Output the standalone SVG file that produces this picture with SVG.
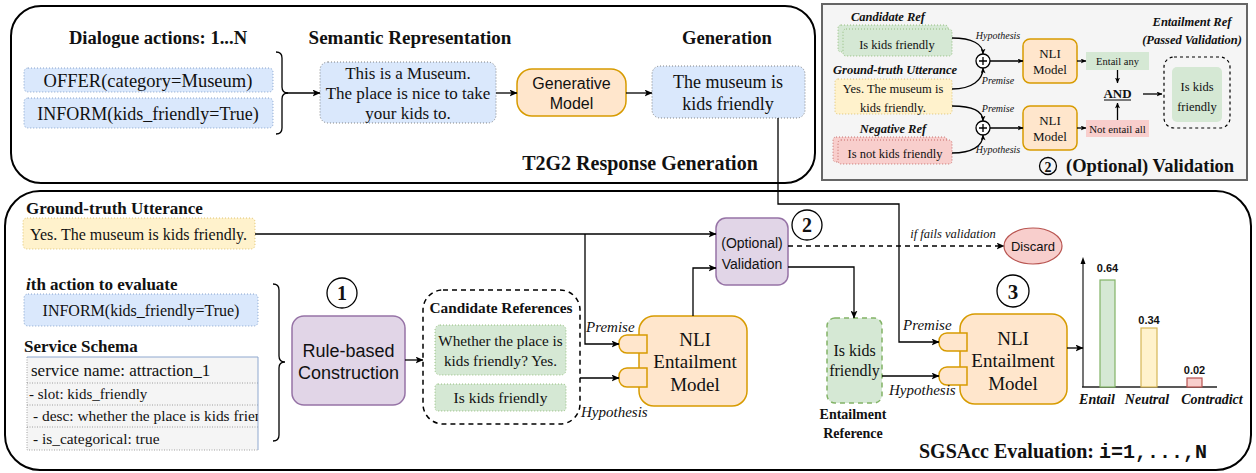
<svg xmlns="http://www.w3.org/2000/svg" width="1256" height="473" viewBox="0 0 1256 473">
<style>
.serif{font-family:"Liberation Serif","Times New Roman",serif;fill:#111}
.sans{font-family:"Liberation Sans",Arial,sans-serif;fill:#111}
.mono{font-family:"Liberation Mono","Courier New",monospace;fill:#111}
.b{font-weight:bold}
.i{font-style:italic}
.mid{text-anchor:middle}
.blue{fill:#dae8fc;stroke:#6c8ebf;stroke-width:0.8;stroke-dasharray:1 2}
.green{fill:#d5e8d4;stroke:#82b366;stroke-width:0.8;stroke-dasharray:1 2}
.yellow{fill:#fff2cc;stroke:#d6b656;stroke-width:0.8;stroke-dasharray:1 2}
.red{fill:#f8cecc;stroke:#b85450;stroke-width:0.8;stroke-dasharray:1 2}
.orange{fill:#ffe6cc;stroke:#d79b00;stroke-width:1.5}
.purple{fill:#e1d5e7;stroke:#9673a6;stroke-width:1.5}
.line{fill:none;stroke:#000;stroke-width:1.3}
.dash{stroke-dasharray:5 4}
.circ{fill:#fff;stroke:#000;stroke-width:1.3}
</style>
<defs>
<marker id="arr" viewBox="0 0 8 7" refX="7.5" refY="3.5" markerWidth="8" markerHeight="7" markerUnits="userSpaceOnUse" orient="auto">
<path d="M0,0 L8,3.5 L0,7 L2,3.5 z" fill="#000"/>
</marker>
<marker id="arrs" viewBox="0 0 8 7" refX="7.5" refY="3.5" markerWidth="6" markerHeight="5" markerUnits="userSpaceOnUse" orient="auto">
<path d="M0,0 L8,3.5 L0,7 L2,3.5 z" fill="#000"/>
</marker>
<clipPath id="schemaClip"><rect x="27" y="357" width="231" height="94"/></clipPath>
</defs>
<rect width="1256" height="473" fill="#fff"/>

<!-- Panels -->
<g id="panel-top">
<rect x="11" y="6" width="804" height="177" rx="30" fill="#fff" stroke="#000" stroke-width="2"/>
<text class="serif b mid" x="640" y="170" font-size="20">T2G2 Response Generation</text>
</g>
<g id="panel-bottom">
<rect x="5" y="191" width="1246" height="279" rx="35" fill="#fff" stroke="#000" stroke-width="2"/>
<text class="serif b" x="919" y="458" font-size="20">SGSAcc Evaluation: <tspan class="mono b" font-size="20">i=1,...,N</tspan></text>
</g>
<g id="panel-validation">
<rect x="822" y="4" width="425" height="176" fill="#f5f5f5" stroke="#666" stroke-width="2"/>
<circle cx="1048" cy="166" r="8.5" fill="none" stroke="#000" stroke-width="1.3"/>
<text class="serif b mid" x="1048" y="171.5" font-size="14">2</text>
<text class="serif b" x="1066" y="172" font-size="18.5">(Optional) Validation</text>
</g>

<!-- Top panel nodes -->
<g id="dialogue-actions">
<text class="serif b mid" x="158" y="44" font-size="18.6">Dialogue actions: 1...N</text>
<rect class="blue" x="24" y="68" width="249" height="24" rx="4"/>
<text class="serif mid" x="148" y="86.5" font-size="18.5">OFFER(category=Museum)</text>
<rect class="blue" x="24" y="98" width="249" height="30" rx="4"/>
<text class="serif mid" x="148" y="119.5" font-size="18">INFORM(kids_friendly=True)</text>
<path class="line" d="M276,52 q6,0 6,6 v29 q0,6 6,6 q-6,0 -6,6 v29 q0,6 -6,6"/>
</g>
<g id="semantic-representation">
<text class="serif b mid" x="410" y="44" font-size="19">Semantic Representation</text>
<rect class="blue" x="320" y="62" width="176" height="61" rx="8" style="stroke:#666"/>
<text class="serif mid" x="408" y="79" font-size="17">This is a Museum.</text>
<text class="serif mid" x="408" y="99" font-size="17">The place is nice to take</text>
<text class="serif mid" x="408" y="119" font-size="17">your kids to.</text>
</g>
<g id="generative-model">
<rect class="orange" x="517" y="69" width="109" height="47" rx="15"/>
<text class="sans mid" x="571.5" y="89" font-size="16">Generative</text>
<text class="sans mid" x="571.5" y="109" font-size="16">Model</text>
</g>
<g id="generation">
<text class="serif b mid" x="727" y="44" font-size="18.6">Generation</text>
<rect class="blue" x="652" y="66" width="153" height="52" rx="8" style="stroke:#666"/>
<text class="serif mid" x="728" y="88" font-size="18">The museum is</text>
<text class="serif mid" x="728" y="110" font-size="18">kids friendly</text>
</g>

<!-- Validation panel nodes -->
<g id="v-candidate-ref">
<text class="serif b i mid" x="888" y="21" font-size="12.5">Candidate Ref</text>
<rect class="green" x="838" y="25" width="110" height="27" rx="3"/>
<rect class="green" x="843" y="29" width="109" height="27" rx="3"/>
<text class="serif mid" x="897" y="49" font-size="12.5">Is kids friendly</text>
</g>
<g id="v-ground-truth">
<text class="serif b i mid" x="895" y="74" font-size="12.5">Ground-truth Utterance</text>
<rect class="yellow" x="835" y="79" width="117" height="35" rx="3"/>
<text class="serif mid" x="893" y="93" font-size="12.5">Yes. The museum is</text>
<text class="serif mid" x="893" y="112" font-size="12.5">kids friendly.</text>
</g>
<g id="v-negative-ref">
<text class="serif b i mid" x="893" y="133" font-size="12.5">Negative Ref</text>
<rect class="red" x="833" y="137" width="114" height="25" rx="3"/>
<rect class="red" x="838" y="140" width="114" height="24" rx="3"/>
<text class="serif mid" x="895" y="158" font-size="12.5">Is not kids friendly</text>
</g>
<g id="v-plus1">
<circle cx="983" cy="61" r="7" class="circ"/>
<path class="line" d="M979,61 h8 M983,57 v8" stroke-width="1"/>
</g>
<g id="v-plus2">
<circle cx="983" cy="128" r="7" class="circ"/>
<path class="line" d="M979,128 h8 M983,124 v8" stroke-width="1"/>
</g>
<g id="v-nli1">
<rect class="orange" x="1023" y="39" width="54" height="44" rx="7"/>
<text class="serif mid" x="1050" y="58" font-size="13">NLI</text>
<text class="serif mid" x="1050" y="74" font-size="13">Model</text>
</g>
<g id="v-nli2">
<rect class="orange" x="1023" y="106" width="54" height="44" rx="7"/>
<text class="serif mid" x="1050" y="125" font-size="13">NLI</text>
<text class="serif mid" x="1050" y="141" font-size="13">Model</text>
</g>
<g id="v-entail-any">
<rect x="1086" y="52" width="63" height="18" fill="#d5e8d4"/>
<text class="serif mid" x="1117.5" y="65" font-size="10.5">Entail any</text>
</g>
<g id="v-not-entail-all">
<rect x="1086" y="120" width="63" height="17" fill="#f8cecc"/>
<text class="serif mid" x="1117.5" y="132.5" font-size="10.8">Not entail all</text>
</g>
<g id="v-and">
<text class="serif b mid" x="1117.5" y="98" font-size="13">AND</text>
<line x1="1104" y1="100" x2="1131" y2="100" stroke="#000" stroke-width="1"/>
</g>
<g id="v-entailment-ref">
<text class="serif b i mid" x="1192" y="26" font-size="12.5">Entailment Ref</text>
<text class="serif b i mid" x="1192" y="44" font-size="12.5">(Passed Validation)</text>
<rect x="1164" y="57" width="66" height="71" rx="10" fill="none" stroke="#000" stroke-width="1.2" stroke-dasharray="3 3"/>
<rect x="1172" y="67" width="50" height="55" rx="5" fill="#d5e8d4"/>
<text class="serif mid" x="1197" y="91" font-size="12.5">Is kids</text>
<text class="serif mid" x="1197" y="111" font-size="12.5">friendly</text>
</g>

<!-- Bottom panel nodes -->
<g id="ground-truth">
<text class="serif b" x="26" y="214" font-size="17">Ground-truth Utterance</text>
<rect class="yellow" x="23" y="218" width="232" height="31" rx="4"/>
<text class="serif" x="30" y="239.5" font-size="16">Yes. The museum is kids friendly.</text>
</g>
<g id="ith-action">
<text class="serif b" x="26" y="290" font-size="17"><tspan class="i">i</tspan>th action to evaluate</text>
<rect class="blue" x="24" y="294" width="234" height="32" rx="4"/>
<text class="serif mid" x="141" y="315.5" font-size="16">INFORM(kids_friendly=True)</text>
</g>
<g id="service-schema">
<text class="serif b" x="24" y="352" font-size="17">Service Schema</text>
<rect x="27" y="357" width="231" height="93" fill="#f5f5f5"/>
<g fill="none" stroke="#888" stroke-width="0.8" stroke-dasharray="1 1.5">
<path d="M27,357 V450 H258 M27,383 H258 M27,405 H258 M27,427 H258"/>
</g>
<path d="M27,357 H258 V450" fill="none" stroke="#8fa8cf" stroke-width="1"/>
<g clip-path="url(#schemaClip)">
<text class="serif" x="31" y="376" font-size="17" fill="#333">service name: attraction_1</text>
<text class="serif" x="29" y="399" font-size="15" fill="#333">- slot: kids_friendly</text>
<text class="serif" x="33" y="421" font-size="15.4" fill="#333">- desc: whether the place is kids friendly</text>
<text class="serif" x="33" y="444" font-size="15.4" fill="#333">- is_categorical: true</text>
</g>
<path class="line" d="M273,284 q6,0 6,6 v66 q0,6 6,6 q-6,0 -6,6 v67 q0,6 -6,6"/>
</g>
<g id="step1">
<circle cx="342" cy="293" r="15" class="circ"/>
<text class="serif b mid" x="342" y="300" font-size="20">1</text>
</g>
<g id="rule-based">
<rect class="purple" x="292" y="316" width="113" height="89" rx="12"/>
<text class="sans mid" x="348.5" y="357" font-size="18">Rule-based</text>
<text class="sans mid" x="348.5" y="379" font-size="18">Construction</text>
</g>
<g id="candidate-references">
<rect x="423" y="290" width="157" height="134" rx="20" fill="none" stroke="#000" stroke-width="1.5" stroke-dasharray="5 4"/>
<text class="serif b mid" x="501" y="313" font-size="15.3">Candidate References</text>
<rect class="green" x="435" y="325" width="131" height="50" rx="5"/>
<text class="serif mid" x="500.5" y="346" font-size="15.2">Whether the place is</text>
<text class="serif mid" x="500.5" y="366" font-size="15.2">kids friendly? Yes.</text>
<rect class="green" x="435" y="384" width="131" height="27" rx="3"/>
<text class="serif mid" x="500.5" y="403" font-size="15.5">Is kids friendly</text>
</g>
<g id="nli1">
<rect class="orange" x="639" y="316" width="108" height="90" rx="15"/>
<path class="orange" d="M647,335 H627 a8,8 0 0 0 -8,8 v2 a8,8 0 0 0 8,8 H647 z"/>
<path class="orange" d="M647,368 H627 a8,8 0 0 0 -8,8 v3 a8,8 0 0 0 8,8 H647 z"/>
<text class="serif mid" x="695" y="346" font-size="19">NLI</text>
<text class="serif mid" x="695" y="368" font-size="19">Entailment</text>
<text class="serif mid" x="695" y="391" font-size="19">Model</text>
</g>
<g id="validation">
<rect class="purple" x="716" y="218" width="72" height="67" rx="10"/>
<text class="sans mid" x="752" y="248" font-size="14">(Optional)</text>
<text class="sans mid" x="752" y="269" font-size="14">Validation</text>
</g>
<g id="step2">
<circle cx="807" cy="225" r="15" class="circ"/>
<text class="serif b mid" x="807" y="232" font-size="20">2</text>
</g>
<g id="discard">
<ellipse cx="1033" cy="246" rx="29" ry="18" fill="#f8cecc" stroke="#b85450" stroke-width="1.2"/>
<text class="sans mid" x="1033" y="251" font-size="13">Discard</text>
</g>
<g id="entailment-reference">
<rect x="827" y="318" width="55" height="85" rx="8" fill="#d5e8d4" stroke="#82b366" stroke-width="1.5" stroke-dasharray="5 4"/>
<text class="serif mid" x="854.5" y="356" font-size="16">Is kids</text>
<text class="serif mid" x="854.5" y="376" font-size="16">friendly</text>
<text class="serif b mid" x="853" y="419" font-size="14">Entailment</text>
<text class="serif b mid" x="853" y="438" font-size="14">Reference</text>
</g>
<g id="step3">
<circle cx="1013" cy="291" r="16" class="circ"/>
<text class="serif b mid" x="1013" y="298.5" font-size="21">3</text>
</g>
<g id="nli2">
<rect class="orange" x="960" y="314" width="107" height="90" rx="15"/>
<path class="orange" d="M967,333 H947 a8,8 0 0 0 -8,8 v2 a8,8 0 0 0 8,8 H967 z"/>
<path class="orange" d="M967,367 H947 a8,8 0 0 0 -8,8 v2 a8,8 0 0 0 8,8 H967 z"/>
<text class="serif mid" x="1013" y="345" font-size="19">NLI</text>
<text class="serif mid" x="1013" y="367" font-size="19">Entailment</text>
<text class="serif mid" x="1013" y="390" font-size="19">Model</text>
</g>
<g id="chart">
<path d="M1083,387 V262" fill="none" stroke="#666" stroke-width="1.8"/>
<path d="M1083,257 l-2.5,7 h5 z" fill="#000"/>
<path d="M1082,387 H1217" fill="none" stroke="#222" stroke-width="1.5"/>
<rect x="1100" y="280" width="15" height="107" fill="#d5e8d4" stroke="#82b366" stroke-width="1.2"/>
<rect x="1141" y="328" width="16" height="59" fill="#fff2cc" stroke="#d6b656" stroke-width="1.2"/>
<rect x="1187" y="378" width="15" height="9" fill="#f8cecc" stroke="#b85450" stroke-width="1.2"/>
<text class="sans b mid" x="1107.5" y="272" font-size="11">0.64</text>
<text class="sans b mid" x="1149" y="324" font-size="11">0.34</text>
<text class="sans b mid" x="1194.5" y="374" font-size="11">0.02</text>
<text class="serif b i mid" x="1097" y="404" font-size="14">Entail</text>
<text class="serif b i mid" x="1147" y="404" font-size="14">Neutral</text>
<text class="serif b i mid" x="1212" y="404" font-size="14">Contradict</text>
</g>

<!-- Connectors -->
<g id="connectors">
<path class="line" d="M285,93 H320" marker-end="url(#arr)"/>
<path class="line" d="M496,93 H517" marker-end="url(#arr)"/>
<path class="line" d="M626,93 H652" marker-end="url(#arr)"/>
<path class="line" d="M778,118 V204 H899 V342 H939" marker-end="url(#arr)"/>
<path class="line" d="M255,234 H716" marker-end="url(#arr)"/>
<path class="line" d="M585,234 V344 H619" marker-end="url(#arr)"/>
<path class="line" d="M405,360 H423" marker-end="url(#arr)"/>
<path class="line" d="M580,378 H619" marker-end="url(#arr)"/>
<path class="line" d="M693,316 V268 H716" marker-end="url(#arr)"/>
<path class="line dash" d="M788,246 H1004" marker-end="url(#arr)"/>
<path class="line" d="M788,267 H854 V318" marker-end="url(#arr)"/>
<path class="line" d="M882,376 H939" marker-end="url(#arr)"/>
<path class="line" d="M1067,348 H1083" marker-end="url(#arr)"/>
<text class="serif i" x="586" y="332" font-size="15">Premise</text>
<text class="serif i" x="581" y="417" font-size="15">Hypothesis</text>
<text class="serif i" x="903" y="330" font-size="15">Premise</text>
<text class="serif i" x="889" y="395" font-size="15">Hypothesis</text>
<text class="serif i mid" x="953" y="238" font-size="12.5" fill="#333">if fails validation</text>
<!-- validation panel connectors -->
<path class="line" d="M952,38 C972,38 983,44 983,54" marker-end="url(#arrs)" stroke-width="1.1"/>
<path class="line" d="M952,89 C972,89 983,80 983,68" marker-end="url(#arrs)" stroke-width="1.1"/>
<path class="line" d="M990,61 H1023" marker-end="url(#arrs)" stroke-width="1.1"/>
<path class="line" d="M952,106 C972,106 983,111 983,121" marker-end="url(#arrs)" stroke-width="1.1"/>
<path class="line" d="M952,153 C972,153 983,146 983,135" marker-end="url(#arrs)" stroke-width="1.1"/>
<path class="line" d="M990,128 H1023" marker-end="url(#arrs)" stroke-width="1.1"/>
<path class="line" d="M1077,61 H1086" marker-end="url(#arrs)" stroke-width="1.1"/>
<path class="line" d="M1077,128 H1086" marker-end="url(#arrs)" stroke-width="1.1"/>
<path class="line" d="M1117.5,70 V83" marker-end="url(#arrs)" stroke-width="1.1"/>
<path class="line" d="M1117.5,120 V103" marker-end="url(#arrs)" stroke-width="1.1"/>
<path class="line" d="M1143,94 H1162" marker-end="url(#arrs)" stroke-width="1.1"/>
<text class="serif i mid" x="998" y="39" font-size="10" fill="#333">Hypothesis</text>
<text class="serif i mid" x="998" y="84" font-size="10" fill="#333">Premise</text>
<text class="serif i mid" x="998" y="112" font-size="10" fill="#333">Premise</text>
<text class="serif i mid" x="998" y="153" font-size="10" fill="#333">Hypothesis</text>
</g>
</svg>
